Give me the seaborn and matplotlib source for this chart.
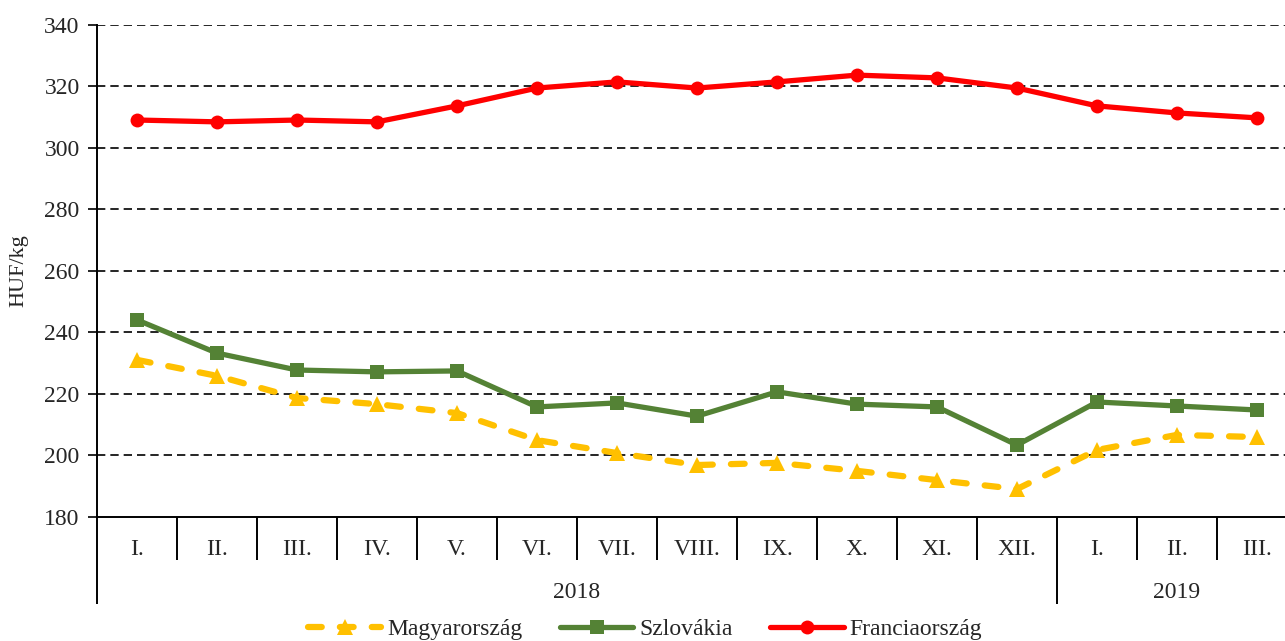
import matplotlib
matplotlib.use("Agg")
import matplotlib.pyplot as plt
import seaborn as sns
import pandas as pd
import numpy as np

months = ["I.", "II.", "III.", "IV.", "V.", "VI.", "VII.", "VIII.", "IX.", "X.", "XI.", "XII.", "I.", "II.", "III."]
years = ["2018", "2019"]
year_spans = [(0, 11), (12, 14)]

magyarorszag = [231.1, 225.9, 218.7, 216.7, 213.8, 205.0, 200.8, 196.9, 197.6, 195.0, 192.0, 189.1, 201.8, 206.7, 206.0]
szlovakia = [244.1, 233.3, 227.8, 227.2, 227.5, 215.8, 217.1, 212.8, 220.7, 216.7, 215.8, 203.4, 217.4, 216.1, 214.8]
franciaorszag = [309.1, 308.5, 309.1, 308.5, 313.7, 319.5, 321.5, 319.5, 321.5, 323.7, 322.8, 319.5, 313.7, 311.4, 309.8]

series_names = ["Magyarország", "Szlovákia", "Franciaország"]

sns.set_theme(style="white")
plt.rcParams["font.family"] = ["Liberation Serif", "DejaVu Serif"]
FS = 17
plt.rcParams["font.size"] = FS

pos = np.arange(len(months))
df = pd.DataFrame({
    "pos": np.tile(pos, 3),
    "value": magyarorszag + szlovakia + franciaorszag,
    "series": np.repeat(series_names, len(months)),
})

fig = plt.figure(figsize=(12.85, 6.41), dpi=100)
W, H = 1285, 641
left, right, top, bottom = 97, 1297, 25, 517
ax = fig.add_axes([left / W, 1 - bottom / H, (right - left) / W, (bottom - top) / H])

styles = {
    "Magyarország": dict(color="#FFC000", marker="^", markersize=12, linewidth=4.5,
                         linestyle=(0, (2.2, 2.9)), dash_capstyle="round"),
    "Szlovákia": dict(color="#548235", marker="s", markersize=10, linewidth=3.8, linestyle="-"),
    "Franciaország": dict(color="#FF0000", marker="o", markersize=10, linewidth=3.8, linestyle="-"),
}
for name in series_names:
    sub = df[df["series"] == name]
    st = styles[name]
    sns.lineplot(data=sub, x="pos", y="value", ax=ax, label=name,
                 markeredgewidth=0, estimator=None, **st)

ax.set_xlim(-0.5, len(months) - 0.5)
ax.set_ylim(180, 340)
ax.set_yticks(np.arange(180, 341, 20))
ax.set_xticks(pos)
ax.set_xticklabels(months)
ax.tick_params(axis="x", which="major", length=0, pad=16, labelsize=FS)
ax.tick_params(axis="y", length=6.5, width=1.2, direction="out", pad=6, labelsize=FS, left=True, color="black")

for y in np.arange(200, 341, 20):
    ax.axhline(y, color="black", linewidth=1.2, linestyle=(0, (5, 3)), zorder=0.5)

for s in ["top", "right"]:
    ax.spines[s].set_visible(False)
for s in ["left", "bottom"]:
    ax.spines[s].set_color("black")
    ax.spines[s].set_linewidth(1.4)

ax.set_xlabel("")
ax.set_ylabel("HUF/kg", fontsize=16)
ax.yaxis.set_label_coords(-0.057, 0.5)

axh = bottom - top
trans = ax.get_xaxis_transform()
month_bounds = [b + 0.5 for b in range(len(months) - 1) if b != 11]
ax.vlines(month_bounds, -43 / axh, 0, transform=trans, colors="black", linewidth=1.4, clip_on=False)
ax.vlines([-0.5, 11.5], -87 / axh, 0, transform=trans, colors="black", linewidth=1.4, clip_on=False)
for yr, (a, b) in zip(years, year_spans):
    ax.text((a + b) / 2, -75 / axh, yr, transform=trans, ha="center", va="center", fontsize=FS)

handles, labels = ax.get_legend_handles_labels()
ax.get_legend().remove()
fig.legend(handles, labels, loc="center", bbox_to_anchor=(645 / W, 1 - 629 / H), ncol=3,
           frameon=False, fontsize=FS, handlelength=3.1, handletextpad=0.25, columnspacing=1.6,
           numpoints=1)

fig.savefig("out.png", dpi=100)
